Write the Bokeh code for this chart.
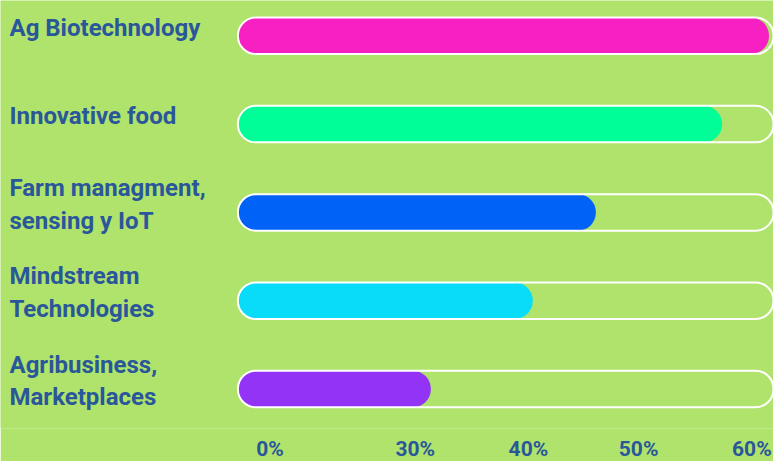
from bokeh.plotting import figure
from bokeh.models import Range1d, FixedTicker, ColumnDataSource
from bokeh.core.properties import value
from bokeh.embed import file_html
from bokeh.resources import INLINE

categories = ["Ag Biotechnology", "Innovative food", "Farm managment,\nsensing y IoT",
              "Mindstream\nTechnologies", "Agribusiness,\nMarketplaces"]
values = [58.9, 53.7, 39.7, 32.7, 21.4]
colors = ["#f721c3", "#00fe98", "#0062f6", "#08dcf8", "#9333f5"]
track_max = 60
tick_labels = ["0%", "30%", "40%", "50%", "60%"]

# layout constants
tick_pos = [3.56, 19.67, 32.22, 44.44, 57.0]
FONT = "Roboto"
TXT = "#2a579a"
BG = "#afe36c"
X0, X1 = -26.33, 59.4
Y_TOP, Y_BOT = -0.40, 4.447

n = len(categories)
idx = list(range(n))
src = ColumnDataSource(dict(y=idx, v=values, c=colors, lab=categories,
                            zero=[0] * n, tmax=[track_max] * n, lx=[X0] * n))

p = figure(frame_width=773, frame_height=428, output_backend="svg", toolbar_location=None,
           x_range=Range1d(X0, X1), y_range=Range1d(Y_BOT, Y_TOP),
           min_border=0, background_fill_color=BG, border_fill_color=BG)
p.outline_line_color = None
p.grid.visible = False
p.yaxis.visible = False

bar_h = 36.5 / 88.3
p.hbar(y="y", left="zero", right="v", height=bar_h, fill_color="c", line_color=None,
       border_radius=18, source=src)
p.hbar(y="y", left="zero", right="tmax", height=bar_h, fill_alpha=0, line_color="white",
       line_width=2, border_radius=18, source=src)

p.text(x="lx", y="y", text="lab", source=src, text_font=value(FONT), text_font_size="24px",
       text_color=TXT, text_baseline="middle", text_align="left", x_offset=9, y_offset=-8,
       text_line_height=1.17, text_font_style="bold")

ax = p.xaxis[0]
ax.ticker = FixedTicker(ticks=tick_pos)
ax.major_label_overrides = {t: l for t, l in zip(tick_pos, tick_labels)}
ax.axis_line_color = None
ax.major_tick_line_color = None
ax.minor_tick_line_color = None
ax.major_label_text_font = FONT
ax.major_label_text_font_size = "21px"
ax.major_label_text_font_style = "bold"
ax.major_label_text_color = TXT
ax.major_label_standoff = 2

open("out.html", "w").write(file_html(p, INLINE))
